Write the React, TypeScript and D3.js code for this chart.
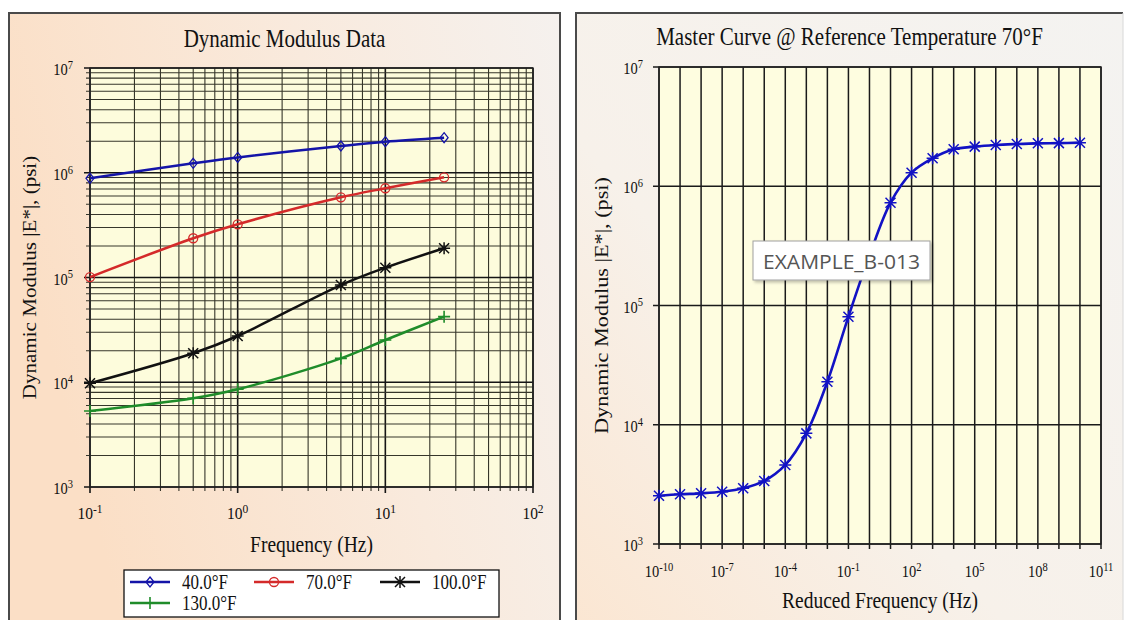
import React from "react";
import * as d3 from "d3";

// ---------- data ----------
const frequencies = [0.1, 0.5, 1, 5, 10, 25];
const modulus40F = [885000, 1230000, 1400000, 1800000, 1980000, 2160000];
const modulus70F = [101000, 237000, 322000, 583000, 711000, 905000];
const modulus100F = [9770, 18900, 27650, 84700, 124000, 190000];
const modulus130F = [5320, 7030, 8570, 16900, 25300, 42300];

const seriesNames = ["40.0°F", "70.0°F", "100.0°F", "130.0°F"];

const reducedFrequencies = [
  1e-10, 1e-9, 1e-8, 1e-7, 1e-6, 1e-5, 1e-4, 1e-3, 1e-2, 1e-1, 1e0,
  1e1, 1e2, 1e3, 1e4, 1e5, 1e6, 1e7, 1e8, 1e9, 1e10,
];
const masterModulus = [
  2540, 2610, 2660, 2745, 2930, 3375, 4600, 8470, 22960, 80560, 263000,
  728000, 1300000, 1715000, 2040000, 2150000, 2220000, 2260000, 2290000, 2300000, 2320000,
];

const leftXTicks = [0.1, 1, 10, 100];
const leftYTicks = [1e3, 1e4, 1e5, 1e6, 1e7];
const rightXTicks = [1e-10, 1e-7, 1e-4, 1e-1, 1e2, 1e5, 1e8, 1e11];
const rightYTicks = [1e3, 1e4, 1e5, 1e6, 1e7];

const leftTitle = "Dynamic Modulus Data";
const rightTitle = "Master Curve @ Reference Temperature 70°F";
const yTitle = "Dynamic Modulus |E*|, (psi)";
const leftXTitle = "Frequency (Hz)";
const rightXTitle = "Reduced Frequency (Hz)";
const calloutText = "EXAMPLE_B-013";

// ---------- layout ----------
const W = 1127;
const H = 620;
const SERIF = "'Liberation Serif', 'Times New Roman', serif";
const SY = 1.17;

const LP = { x0: 90, x1: 533, y0: 68, y1: 487 };
const RP = { x0: 659, x1: 1101, y0: 67, y1: 544 };

const lx = d3.scaleLog().domain([0.1, 100]).range([LP.x0, LP.x1]);
const ly = d3.scaleLog().domain([1e3, 1e7]).range([LP.y1, LP.y0]);
const rx = d3.scaleLog().domain([1e-10, 1e11]).range([RP.x0, RP.x1]);
const ry = d3.scaleLog().domain([1e3, 1e7]).range([RP.y1, RP.y0]);

const colors = ["#1414a8", "#d42a2a", "#111111", "#1f8c2a"];
const masterColor = "#1212c4";

const isMajor = (v: number) => Math.abs(Math.log10(v) - Math.round(Math.log10(v))) < 1e-9;
const expOf = (v: number) => Math.round(Math.log10(v));

function Marker({ kind, x, y, color }: { kind: string; x: number; y: number; color: string }) {
  const t = `translate(${x},${y})`;
  if (kind === "diamond")
    return <path transform={t} d="M0,-5L4,0L0,5L-4,0Z" fill="none" stroke={color} strokeWidth={1.3} />;
  if (kind === "circle") return <circle cx={x} cy={y} r={4.5} fill="none" stroke={color} strokeWidth={1.3} />;
  if (kind === "star")
    return (
      <path transform={t} d="M0,-6V6M-5,-5L5,5M-5,5L5,-5M-6,0H6" stroke={color} strokeWidth={1.5} fill="none" />
    );
  return <path transform={t} d="M0,-6V6M-6,0H6" stroke={color} strokeWidth={1.6} fill="none" />;
}

function Pow({ x, y, v, anchor, size, supSize }: { x: number; y: number; v: number; anchor: string; size: number; supSize: number }) {
  return (
    <text
      transform={`translate(${x},${y}) scale(1,${1.12})`}
      textAnchor={anchor as any}
      fontFamily={SERIF}
      fontSize={size}
      fill="#111"
    >
      10
      <tspan dy={-5.5} fontSize={supSize}>
        {expOf(v)}
      </tspan>
    </text>
  );
}

export default function App() {
  const leftSeries = [modulus40F, modulus70F, modulus100F, modulus130F];
  const markerKinds = ["diamond", "circle", "star", "plus"];

  const lineL = d3
    .line<[number, number]>()
    .x((d) => lx(d[0]))
    .y((d) => ly(d[1]))
    .curve(d3.curveCatmullRom.alpha(0.5));
  const lineR = d3
    .line<[number, number]>()
    .x((d) => rx(d[0]))
    .y((d) => ry(d[1]))
    .curve(d3.curveCatmullRom.alpha(0.5));

  const lxGrid = lx.ticks();
  const lyGrid = ly.ticks();
  const rxGrid = d3.range(-10, 12).map((e) => Math.pow(10, e));
  const ryGrid = [1e3, 1e4, 1e5, 1e6, 1e7];

  const legendItems = [
    { x: 130, y: 582 },
    { x: 254, y: 582 },
    { x: 380, y: 582 },
    { x: 130, y: 603 },
  ];

  return (
    <svg
      width={W}
      height={H}
      viewBox={`0 0 ${W} ${H}`}
      style={{ position: "absolute", left: 0, top: 0, background: "#fff" }}
    >
      <defs>
        <linearGradient id="bgL" x1="0" y1="0.3" x2="1" y2="0">
          <stop offset="0" stopColor="#fbdfc6" />
          <stop offset="0.55" stopColor="#f9eadd" />
          <stop offset="1" stopColor="#f5f1ee" />
        </linearGradient>
        <linearGradient id="bgR" x1="0" y1="1" x2="1" y2="0">
          <stop offset="0" stopColor="#fbe6d2" />
          <stop offset="0.4" stopColor="#f7f1ea" />
          <stop offset="1" stopColor="#f4f3f1" />
        </linearGradient>
        <filter id="shadow" x="-10%" y="-20%" width="130%" height="160%">
          <feDropShadow dx="2" dy="2" stdDeviation="1.5" floodColor="#000" floodOpacity="0.25" />
        </filter>
      </defs>

      {/* panels */}
      <rect x={9} y={13} width={551} height={620} fill="url(#bgL)" />
      <path d="M9,640V13H560V640" fill="none" stroke="#4a4a4a" strokeWidth={2} />
      <rect x={576} y={13} width={547} height={620} fill="url(#bgR)" />
      <path d="M576,640V13H1123" fill="none" stroke="#4a4a4a" strokeWidth={2} />
      <path d="M1123,13V640" fill="none" stroke="#d8d8d8" strokeWidth={1} />

      {/* ---------------- LEFT CHART ---------------- */}
      <text
        transform={`translate(${(9 + 560) / 2},47) scale(1,${SY})`}
        textAnchor="middle"
        fontFamily={SERIF}
        fontSize={21}
        fill="#111"
      >
        {leftTitle}
      </text>
      <rect x={LP.x0} y={LP.y0} width={LP.x1 - LP.x0} height={LP.y1 - LP.y0} fill="#fdfcdc" />
      {lxGrid.map((v, i) => (
        <line
          key={"lxg" + i}
          x1={lx(v)}
          x2={lx(v)}
          y1={LP.y0}
          y2={LP.y1 + (isMajor(v) ? 6 : 4)}
          stroke={isMajor(v) ? "#151515" : "#36362a"}
          strokeWidth={isMajor(v) ? 1.6 : 1.1}
        />
      ))}
      {lyGrid.map((v, i) => (
        <line
          key={"lyg" + i}
          x1={LP.x0 - (isMajor(v) ? 6 : 4)}
          x2={LP.x1}
          y1={ly(v)}
          y2={ly(v)}
          stroke={isMajor(v) ? "#151515" : "#36362a"}
          strokeWidth={isMajor(v) ? 1.6 : 1.1}
        />
      ))}
      <rect x={LP.x0} y={LP.y0} width={LP.x1 - LP.x0} height={LP.y1 - LP.y0} fill="none" stroke="#222" strokeWidth={1.4} />

      {leftXTicks.map((v, i) => (
        <Pow key={"lxt" + i} x={lx(v)} y={519} v={v} anchor="middle" size={15.5} supSize={11.5} />
      ))}
      {leftYTicks.map((v, i) => (
        <Pow key={"lyt" + i} x={73} y={ly(v) + 7} v={v} anchor="end" size={14.5} supSize={10.5} />
      ))}

      <text
        transform={`translate(${(LP.x0 + LP.x1) / 2},552) scale(1,${SY})`}
        textAnchor="middle"
        fontFamily={SERIF}
        fontSize={19.5}
        fill="#111"
      >
        {leftXTitle}
      </text>
      <text
        transform={`translate(36,${(LP.y0 + LP.y1) / 2}) rotate(-90) scale(${SY},1)`}
        textAnchor="middle"
        fontFamily={SERIF}
        fontSize={18}
        fill="#111"
      >
        {yTitle}
      </text>

      {leftSeries.map((vals, si) => {
        const pts = frequencies.map((f, i) => [f, vals[i]] as [number, number]);
        return (
          <g key={"ls" + si}>
            <path d={lineL(pts) || ""} fill="none" stroke={colors[si]} strokeWidth={2.5} />
            {pts.map((p, i) => (
              <Marker key={i} kind={markerKinds[si]} x={lx(p[0])} y={ly(p[1])} color={colors[si]} />
            ))}
          </g>
        );
      })}

      {/* legend */}
      <rect x={124} y={570} width={375} height={47} fill="#fff" stroke="#111" strokeWidth={1.3} />
      {legendItems.map((it, i) => (
        <g key={"lg" + i}>
          <line x1={it.x} x2={it.x + 40} y1={it.y} y2={it.y} stroke={colors[i]} strokeWidth={2.5} />
          <Marker kind={markerKinds[i]} x={it.x + 20} y={it.y} color={colors[i]} />
          <text
            transform={`translate(${it.x + 52},${it.y + 6.5}) scale(1,1.22)`}
            fontFamily={SERIF}
            fontSize={17}
            fill="#111"
          >
            {seriesNames[i]}
          </text>
        </g>
      ))}

      {/* ---------------- RIGHT CHART ---------------- */}
      <text
        transform={`translate(${(576 + 1123) / 2},45) scale(1,${SY})`}
        textAnchor="middle"
        fontFamily={SERIF}
        fontSize={21}
        fill="#111"
      >
        {rightTitle}
      </text>
      <rect x={RP.x0} y={RP.y0} width={RP.x1 - RP.x0} height={RP.y1 - RP.y0} fill="#fefde0" />
      {rxGrid.map((v, i) => (
        <line key={"rxg" + i} x1={rx(v)} x2={rx(v)} y1={RP.y0} y2={RP.y1 + 5} stroke="#1a1a1a" strokeWidth={1.5} />
      ))}
      {ryGrid.map((v, i) => (
        <line key={"ryg" + i} x1={RP.x0 - 6} x2={RP.x1} y1={ry(v)} y2={ry(v)} stroke="#1a1a1a" strokeWidth={1.5} />
      ))}
      <rect x={RP.x0} y={RP.y0} width={RP.x1 - RP.x0} height={RP.y1 - RP.y0} fill="none" stroke="#222" strokeWidth={1.5} />

      {rightXTicks.map((v, i) => (
        <Pow key={"rxt" + i} x={rx(v)} y={577} v={v} anchor="middle" size={14.5} supSize={10.5} />
      ))}
      {rightYTicks.map((v, i) => (
        <Pow key={"ryt" + i} x={643} y={ry(v) + 7} v={v} anchor="end" size={14.5} supSize={10.5} />
      ))}

      <text
        transform={`translate(${(RP.x0 + RP.x1) / 2},608) scale(1,${SY})`}
        textAnchor="middle"
        fontFamily={SERIF}
        fontSize={19.5}
        fill="#111"
      >
        {rightXTitle}
      </text>
      <text
        transform={`translate(608,${(RP.y0 + RP.y1) / 2}) rotate(-90) scale(${SY},1)`}
        textAnchor="middle"
        fontFamily={SERIF}
        fontSize={19}
        fill="#111"
      >
        {yTitle}
      </text>

      {(() => {
        const pts = reducedFrequencies.map((f, i) => [f, masterModulus[i]] as [number, number]);
        return (
          <g>
            <path d={lineR(pts) || ""} fill="none" stroke={masterColor} strokeWidth={2.6} />
            {pts.map((p, i) => (
              <Marker key={i} kind="star" x={rx(p[0])} y={ry(p[1])} color={masterColor} />
            ))}
          </g>
        );
      })()}

      {/* callout label */}
      <g filter="url(#shadow)">
        <rect x={753} y={241} width={177} height={39} fill="#fff" stroke="#a0a0a0" strokeWidth={1} />
      </g>
      <text
        x={763}
        y={268.5}
        fontFamily="'Open Sans', 'Noto Sans', sans-serif"
        fontSize={20.5}
        textLength={157}
        lengthAdjust="spacingAndGlyphs"
        fill="#555"
      >
        {calloutText}
      </text>
    </svg>
  );
}
